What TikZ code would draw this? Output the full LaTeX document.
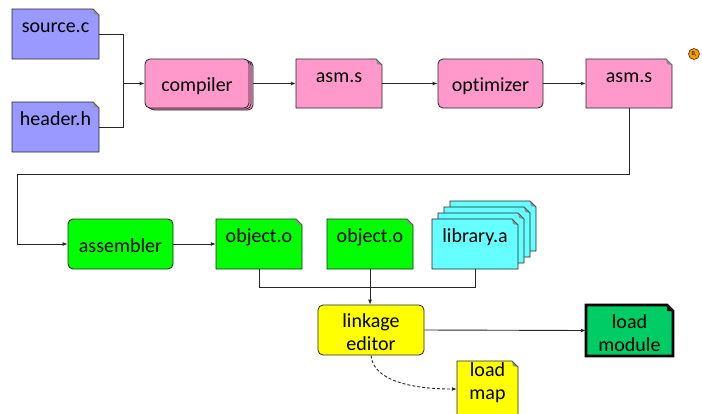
\documentclass[tikz,border=0pt]{standalone}
\usepackage{fontspec}
\setmainfont{Carlito}[Ligatures=NoCommon]
\usetikzlibrary{arrows.meta}

\definecolor{srcblue}{HTML}{9999FF}
\definecolor{stagepink}{HTML}{FF99CC}
\definecolor{objgreen}{HTML}{00FF00}
\definecolor{libcyan}{HTML}{66FFFF}
\definecolor{linkyellow}{HTML}{FFFF00}
\definecolor{modgreen}{HTML}{00CC66}
\definecolor{markorange}{HTML}{FF9900}
\definecolor{edge}{HTML}{262626}

\tikzset{
  outline/.style={draw=edge, line width=0.8pt, line join=miter},
  flow/.style={draw=edge, line width=0.9pt},
  arr/.style={flow, -{Latex[length=5pt,width=4pt]}},
  fold/.style={fill=black!45},
  doctext/.style={inner sep=0pt, text height=0pt, text depth=3pt},
  multitext/.style={inner sep=0pt, align=center},
  proc/.style={outline, rounded corners=5pt, inner sep=0pt},
  proctext/.style={text height=16pt, text depth=0pt},
}

% taller first line, sets two-line labels a little lower
\newcommand\lowline{\rule{0pt}{19pt}}

% document shape with a folded top-right corner and a named node over it
% #1 name, #2 x1, #3 y1, #4 x2, #5 y2, #6 shape style, #7 node style, #8 text
\newcommand\docbox[8]{%
  \path[#6] (#2,#3) -- ({#4-6},#3) -- (#4,{#3+6}) -- (#4,#5) -- (#2,#5) -- cycle;
  \path[fold] ({#4-6},#3) -- (#4,{#3+6}) -- ({#4-5},{#3+5}) -- cycle;
  \node[#7, minimum width={(#4-#2)*1pt}, minimum height={(#5-#3)*1pt}]
    (#1) at ({(#2+#4)/2},{(#3+#5)/2}) {#8};
}

\begin{document}
\begin{tikzpicture}[x=1pt, y=-1pt, font=\fontsize{20}{23}\selectfont]
\clip (0,0) rectangle (702,413);
\fill[white] (0,0) rectangle (702,413);

% sources
\docbox{src}{12}{9}{99}{59}{outline, fill=srcblue}{doctext}{source.c}
\docbox{hdr}{12}{102}{99}{152}{outline, fill=srcblue}{doctext}{header.h}

% compiler (stacked)
\path[proc, fill=stagepink] (149,61) rectangle (253,110);
\path[proc, fill=stagepink] (147,60) rectangle (251,109);
\node[proc, proctext, fill=stagepink, minimum width=104pt, minimum height=49pt]
  (comp) at (197,83.5) {compiler};

\docbox{asm1}{296}{59}{382}{108}{outline, fill=stagepink}{doctext}{asm.s}
\node[proc, proctext, fill=stagepink, minimum width=105pt, minimum height=49pt]
  (opt) at (490.5,83.5) {optimizer};
\docbox{asm2}{586}{59}{672}{108}{outline, fill=stagepink}{doctext}{asm.s}

% note marker
\node[circle, draw=black!70!markorange, line width=0.6pt, fill=markorange,
  minimum size=11pt, inner sep=0pt, font=\fontsize{6}{6}\selectfont]
  (mark) at (694,54) {B\raisebox{-1pt}{\fontsize{3}{3}\selectfont 1}};

% second row
\node[proc, proctext, fill=objgreen, minimum width=105pt, minimum height=50pt]
  (asmb) at (120.5,244) {assembler};
\docbox{obj1}{216}{219}{302}{269}{outline, fill=objgreen}{doctext}{object.o}
\docbox{obj2}{327}{219}{413}{269}{outline, fill=objgreen}{doctext}{object.o}
\docbox{lib3}{450}{201}{536}{251}{outline, fill=libcyan}{doctext}{}
\docbox{lib2}{444}{207}{530}{257}{outline, fill=libcyan}{doctext}{}
\docbox{lib1}{438}{213}{524}{263}{outline, fill=libcyan}{doctext}{}
\docbox{lib}{432}{219}{518}{269}{outline, fill=libcyan}{doctext}{library.a}

% linking
\node[proc, fill=linkyellow, minimum width=106pt, minimum height=50pt, align=center]
  (link) at (371,330) {\rule{0pt}{18pt}linkage\\editor};
\docbox{lmod}{586}{305}{673}{356}{draw=black, line width=2.6pt, fill=modgreen}{multitext}{\lowline load\\module}
\path[fill=black] (667,305) -- (673,311) -- (667,311) -- cycle;

% load map runs past the lower edge
\path[outline, fill=linkyellow] (457,361) -- (512,361) -- (518,367) -- (518,420) -- (457,420) -- cycle;
\path[fold] (512,361) -- (518,367) -- (513,366) -- cycle;
\node[multitext, minimum width=61pt, minimum height=44pt] (lmap) at (487.5,383) {load\\map};

% connectors
\coordinate (join) at (123,83.5);
\coordinate (turn) at (17,174);
\coordinate (bus) at (370,287);
\draw[flow] (src.east) -| (join);
\draw[flow] (hdr.east) -| (join);
\draw[arr] (join) -- (comp.west);
\draw[arr] ([xshift=4pt]comp.east) -- (asm1.west);
\draw[arr] (asm1.east) -- (opt.west);
\draw[arr] (opt.east) -- (asm2.west);
\draw[flow] (asm2.south) |- (turn);
\draw[arr] (turn) |- (asmb.west);
\draw[arr] (asmb.east) -- (obj1.west);
\draw[flow] (obj1.south) |- (bus);
\draw[flow] (lib.south) |- (bus);
\draw[arr] (obj2.south) -- (obj2.south |- link.north);
\draw[arr] (link.east) -- (lmod.west);
\draw[arr, dash pattern=on 3pt off 2pt] (link.south)
  .. controls (373,380) and (410,389) .. ([yshift=-6pt]lmap.west);
\end{tikzpicture}
\end{document}
